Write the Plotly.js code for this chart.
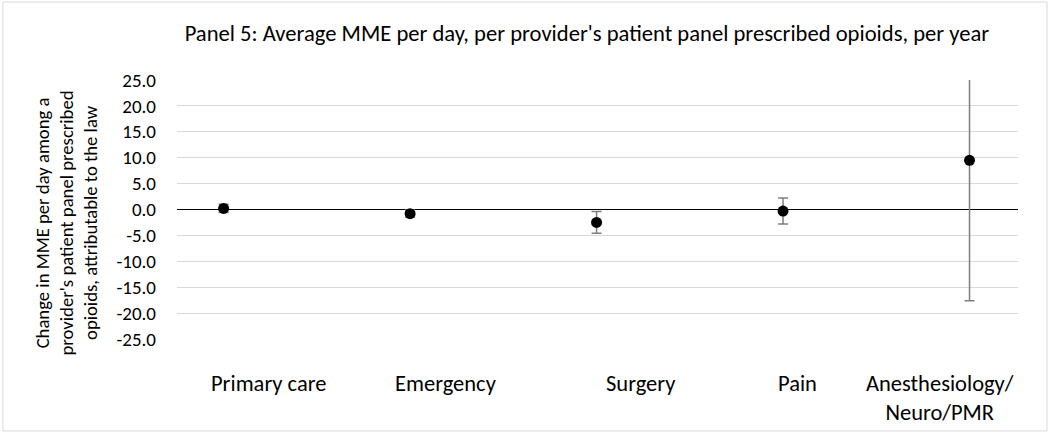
<!DOCTYPE html>
<html>
<head>
<meta charset="utf-8">
<script src="https://cdn.plot.ly/plotly-3.0.1.min.js"></script>
<style>html,body{margin:0;padding:0;background:#fff;}#chart{width:1050px;height:434px;}</style>
</head>
<body>
<div id="chart"></div>
<script>
// Data
const categories = ["Primary care", "Emergency", "Surgery", "Pain", "Anesthesiology/<br>Neuro/PMR"];
const estimates = [0.2, -0.8, -2.5, -0.3, 9.5];
const ciHalfWidth = [0.8, 0.7, 2.1, 2.5, 27.1];
const yTickValues = [25, 20, 15, 10, 5, 0, -5, -10, -15, -20, -25];

// Layout-only settings (label placement offsets under the axis)
const labelOffsets = [0.24, 0.19, 0.24, 0.08, -0.16];

const xs = categories.map((c, i) => i + 1);
const font = "Carlito, Calibri, 'Open Sans', 'Liberation Sans', sans-serif";

const trace = {
  type: 'scatter',
  mode: 'markers',
  x: xs,
  y: estimates,
  marker: {color: '#000000', size: 11},
  error_y: {type: 'data', array: ciHalfWidth, visible: true, color: '#7f7f7f', thickness: 1.5, width: 5},
  hoverinfo: 'y',
  showlegend: false
};

const annotations = categories.map((c, i) => ({
  xref: 'x', yref: 'paper', x: xs[i] + labelOffsets[i], y: -0.112,
  text: c, showarrow: false, xanchor: 'center', yanchor: 'top',
  font: {family: font, size: 22.5, color: '#000'}, align: 'center'
}));

annotations.push({
  xref: 'paper', yref: 'paper', x: -0.1308, y: 0.45, xanchor: 'center', yanchor: 'middle',
  textangle: -90, showarrow: false, align: 'center',
  text: "Change in MME per day among a<br>provider's patient panel prescribed<br>opioids, attributable to the law",
  font: {family: font, size: 18.7, color: '#000'}
});

const layout = {
  width: 1050, height: 434,
  margin: {l: 177, r: 32, t: 80, b: 95},
  paper_bgcolor: '#ffffff', plot_bgcolor: '#ffffff',
  title: {text: "Panel 5: Average MME per day, per provider's patient panel prescribed opioids, per year",
          font: {family: font, size: 22.6, color: '#000'}, x: 0.559, xanchor: 'center', y: 0.924, yanchor: 'middle'},
  xaxis: {range: [0.75, 5.26], showgrid: false, zeroline: false, showline: false, showticklabels: false, ticks: '', fixedrange: true},
  yaxis: {range: [-25, 25], tickvals: yTickValues, ticktext: yTickValues.map(v => v.toFixed(1)),
          showgrid: true, gridcolor: '#d9d9d9', gridwidth: 1, zeroline: true, zerolinecolor: '#000', zerolinewidth: 1.5,
          showline: false, ticks: '', ticklabelstandoff: 20,
          tickfont: {family: font, size: 19, color: '#000'}},
  annotations: annotations,
  shapes: [{type: 'rect', xref: 'paper', yref: 'paper', x0: -0.207, x1: 1.0345, y0: -0.355, y1: 1.301,
            line: {color: '#d9d9d9', width: 1}, fillcolor: 'rgba(0,0,0,0)', layer: 'below'}]
};

Plotly.newPlot('chart', [trace], layout, {staticPlot: true, displayModeBar: false});
</script>
</body>
</html>
